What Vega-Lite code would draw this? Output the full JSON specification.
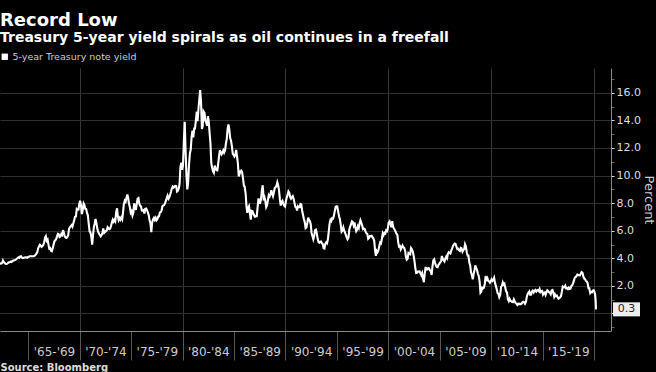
{
"$schema":"https://vega.github.io/schema/vega-lite/v6.json",
"width":611,"height":263,"autosize":{"type":"none"},
"padding":{"left":0,"top":68,"right":45,"bottom":41},
"background":"#000000",
"config":{"view":{"stroke":null},"font":"DejaVu Sans"},
"title":{"text":"Record Low","subtitle":"Treasury 5-year yield spirals as oil continues in a freefall","anchor":"start","frame":"group","offset":7,"font":"DejaVu Sans","fontSize":18,"fontWeight":"bold","color":"#ffffff","subtitleFont":"DejaVu Sans","subtitleFontSize":14,"subtitleFontWeight":"bold","subtitleColor":"#ffffff","subtitlePadding":1},
"datasets":{
"last":[{"t":2020.19,"v":0.3,"label":"0.3"}],
"yield":[
{"t":1962.04,"v":3.88},{"t":1962.13,"v":3.78},{"t":1962.21,"v":3.64},{"t":1962.29,"v":3.61},{"t":1962.38,"v":3.63},{"t":1962.46,"v":3.67},{"t":1962.54,"v":3.84},{"t":1962.63,"v":3.73},{"t":1962.71,"v":3.65},{"t":1962.79,"v":3.60},{"t":1962.88,"v":3.59},{"t":1962.96,"v":3.61},
{"t":1963.04,"v":3.67},{"t":1963.13,"v":3.71},{"t":1963.21,"v":3.73},{"t":1963.29,"v":3.76},{"t":1963.38,"v":3.75},{"t":1963.46,"v":3.80},{"t":1963.54,"v":3.84},{"t":1963.63,"v":3.86},{"t":1963.71,"v":3.87},{"t":1963.79,"v":3.91},{"t":1963.88,"v":3.97},{"t":1963.96,"v":4.02},
{"t":1964.04,"v":4.07},{"t":1964.13,"v":4.03},{"t":1964.21,"v":4.14},{"t":1964.29,"v":4.15},{"t":1964.38,"v":4.05},{"t":1964.46,"v":4.02},{"t":1964.54,"v":4.03},{"t":1964.63,"v":4.05},{"t":1964.71,"v":4.08},{"t":1964.79,"v":4.07},{"t":1964.88,"v":4.04},{"t":1964.96,"v":4.09},
{"t":1965.04,"v":4.10},{"t":1965.13,"v":4.15},{"t":1965.21,"v":4.15},{"t":1965.29,"v":4.15},{"t":1965.38,"v":4.15},{"t":1965.46,"v":4.15},{"t":1965.54,"v":4.15},{"t":1965.63,"v":4.20},{"t":1965.71,"v":4.25},{"t":1965.79,"v":4.34},{"t":1965.88,"v":4.46},{"t":1965.96,"v":4.72},
{"t":1966.04,"v":4.86},{"t":1966.13,"v":4.98},{"t":1966.21,"v":4.92},{"t":1966.29,"v":4.83},{"t":1966.38,"v":4.89},{"t":1966.46,"v":4.97},{"t":1966.54,"v":5.17},{"t":1966.63,"v":5.50},{"t":1966.71,"v":5.60},{"t":1966.79,"v":5.27},{"t":1966.88,"v":5.36},{"t":1966.96,"v":5.00},
{"t":1967.04,"v":4.70},{"t":1967.13,"v":4.74},{"t":1967.21,"v":4.54},{"t":1967.29,"v":4.51},{"t":1967.38,"v":4.75},{"t":1967.46,"v":5.01},{"t":1967.54,"v":5.23},{"t":1967.63,"v":5.31},{"t":1967.71,"v":5.40},{"t":1967.79,"v":5.57},{"t":1967.88,"v":5.78},{"t":1967.96,"v":5.75},
{"t":1968.04,"v":5.54},{"t":1968.13,"v":5.59},{"t":1968.21,"v":5.76},{"t":1968.29,"v":5.69},{"t":1968.38,"v":6.04},{"t":1968.46,"v":5.85},{"t":1968.54,"v":5.60},{"t":1968.63,"v":5.50},{"t":1968.71,"v":5.48},{"t":1968.79,"v":5.55},{"t":1968.88,"v":5.66},{"t":1968.96,"v":6.12},
{"t":1969.04,"v":6.25},{"t":1969.13,"v":6.34},{"t":1969.21,"v":6.41},{"t":1969.29,"v":6.30},{"t":1969.38,"v":6.54},{"t":1969.46,"v":6.75},{"t":1969.54,"v":7.01},{"t":1969.63,"v":7.03},{"t":1969.71,"v":7.57},{"t":1969.79,"v":7.51},{"t":1969.88,"v":7.53},{"t":1969.96,"v":7.96},
{"t":1970.04,"v":8.17},{"t":1970.13,"v":7.82},{"t":1970.21,"v":7.21},{"t":1970.29,"v":7.50},{"t":1970.38,"v":7.97},{"t":1970.46,"v":7.85},{"t":1970.54,"v":7.59},{"t":1970.63,"v":7.57},{"t":1970.71,"v":7.29},{"t":1970.79,"v":7.12},{"t":1970.88,"v":6.47},{"t":1970.96,"v":5.95},
{"t":1971.04,"v":5.89},{"t":1971.13,"v":5.56},{"t":1971.21,"v":5.00},{"t":1971.29,"v":5.65},{"t":1971.38,"v":6.28},{"t":1971.46,"v":6.53},{"t":1971.54,"v":6.85},{"t":1971.63,"v":6.55},{"t":1971.71,"v":6.14},{"t":1971.79,"v":5.93},{"t":1971.88,"v":5.78},{"t":1971.96,"v":5.69},
{"t":1972.04,"v":5.59},{"t":1972.13,"v":5.69},{"t":1972.21,"v":5.87},{"t":1972.29,"v":6.17},{"t":1972.38,"v":5.85},{"t":1972.46,"v":5.91},{"t":1972.54,"v":5.97},{"t":1972.63,"v":6.02},{"t":1972.71,"v":6.25},{"t":1972.79,"v":6.18},{"t":1972.88,"v":6.12},{"t":1972.96,"v":6.16},
{"t":1973.04,"v":6.34},{"t":1973.13,"v":6.60},{"t":1973.21,"v":6.80},{"t":1973.29,"v":6.67},{"t":1973.38,"v":6.80},{"t":1973.46,"v":6.69},{"t":1973.54,"v":7.33},{"t":1973.63,"v":7.63},{"t":1973.71,"v":7.05},{"t":1973.79,"v":6.77},{"t":1973.88,"v":6.92},{"t":1973.96,"v":6.80},
{"t":1974.04,"v":6.95},{"t":1974.13,"v":6.82},{"t":1974.21,"v":7.31},{"t":1974.29,"v":7.92},{"t":1974.38,"v":8.18},{"t":1974.46,"v":8.10},{"t":1974.54,"v":8.38},{"t":1974.63,"v":8.63},{"t":1974.71,"v":8.37},{"t":1974.79,"v":7.97},{"t":1974.88,"v":7.68},{"t":1974.96,"v":7.31},
{"t":1975.04,"v":7.41},{"t":1975.13,"v":7.11},{"t":1975.21,"v":7.30},{"t":1975.29,"v":7.99},{"t":1975.38,"v":7.72},{"t":1975.46,"v":7.51},{"t":1975.54,"v":7.92},{"t":1975.63,"v":8.33},{"t":1975.71,"v":8.37},{"t":1975.79,"v":7.97},{"t":1975.88,"v":7.80},{"t":1975.96,"v":7.76},
{"t":1976.04,"v":7.46},{"t":1976.13,"v":7.45},{"t":1976.21,"v":7.49},{"t":1976.29,"v":7.25},{"t":1976.38,"v":7.59},{"t":1976.46,"v":7.61},{"t":1976.54,"v":7.49},{"t":1976.63,"v":7.31},{"t":1976.71,"v":7.13},{"t":1976.79,"v":6.75},{"t":1976.88,"v":6.52},{"t":1976.96,"v":5.90},
{"t":1977.04,"v":6.58},{"t":1977.13,"v":6.83},{"t":1977.21,"v":6.93},{"t":1977.29,"v":6.79},{"t":1977.38,"v":6.94},{"t":1977.46,"v":6.76},{"t":1977.54,"v":6.84},{"t":1977.63,"v":7.03},{"t":1977.71,"v":7.04},{"t":1977.79,"v":7.32},{"t":1977.88,"v":7.34},{"t":1977.96,"v":7.48},
{"t":1978.04,"v":7.77},{"t":1978.13,"v":7.83},{"t":1978.21,"v":7.86},{"t":1978.29,"v":7.98},{"t":1978.38,"v":8.18},{"t":1978.46,"v":8.36},{"t":1978.54,"v":8.54},{"t":1978.63,"v":8.33},{"t":1978.71,"v":8.43},{"t":1978.79,"v":8.61},{"t":1978.88,"v":8.84},{"t":1978.96,"v":9.08},
{"t":1979.04,"v":9.20},{"t":1979.13,"v":9.13},{"t":1979.21,"v":9.20},{"t":1979.29,"v":9.25},{"t":1979.38,"v":9.24},{"t":1979.46,"v":8.85},{"t":1979.54,"v":8.90},{"t":1979.63,"v":9.06},{"t":1979.71,"v":9.41},{"t":1979.79,"v":10.63},{"t":1979.88,"v":10.93},{"t":1979.96,"v":10.42},
{"t":1980.04,"v":10.74},{"t":1980.13,"v":12.60},{"t":1980.21,"v":13.90},{"t":1980.29,"v":11.84},{"t":1980.38,"v":9.95},{"t":1980.46,"v":9.00},{"t":1980.54,"v":9.53},{"t":1980.63,"v":10.84},{"t":1980.71,"v":11.62},{"t":1980.79,"v":11.86},{"t":1980.88,"v":12.83},{"t":1980.96,"v":13.25},
{"t":1981.04,"v":12.77},{"t":1981.13,"v":13.41},{"t":1981.21,"v":13.41},{"t":1981.29,"v":13.99},{"t":1981.38,"v":14.63},{"t":1981.46,"v":13.95},{"t":1981.54,"v":14.79},{"t":1981.63,"v":15.56},{"t":1981.71,"v":16.20},{"t":1981.79,"v":15.41},{"t":1981.88,"v":13.38},{"t":1981.96,"v":13.60},
{"t":1982.04,"v":14.65},{"t":1982.13,"v":14.54},{"t":1982.21,"v":13.98},{"t":1982.29,"v":13.87},{"t":1982.38,"v":13.62},{"t":1982.46,"v":14.30},{"t":1982.54,"v":13.95},{"t":1982.63,"v":13.06},{"t":1982.71,"v":12.34},{"t":1982.79,"v":10.91},{"t":1982.88,"v":10.55},{"t":1982.96,"v":10.30},
{"t":1983.04,"v":10.20},{"t":1983.13,"v":10.72},{"t":1983.21,"v":10.51},{"t":1983.29,"v":10.40},{"t":1983.38,"v":10.38},{"t":1983.46,"v":10.85},{"t":1983.54,"v":11.38},{"t":1983.63,"v":11.85},{"t":1983.71,"v":11.65},{"t":1983.79,"v":11.54},{"t":1983.88,"v":11.69},{"t":1983.96,"v":11.83},
{"t":1984.04,"v":11.67},{"t":1984.13,"v":11.84},{"t":1984.21,"v":12.32},{"t":1984.29,"v":12.63},{"t":1984.38,"v":13.41},{"t":1984.46,"v":13.70},{"t":1984.54,"v":13.36},{"t":1984.63,"v":12.72},{"t":1984.71,"v":12.52},{"t":1984.79,"v":12.16},{"t":1984.88,"v":11.57},{"t":1984.96,"v":11.50},
{"t":1985.04,"v":11.38},{"t":1985.13,"v":11.51},{"t":1985.21,"v":11.86},{"t":1985.29,"v":11.43},{"t":1985.38,"v":10.85},{"t":1985.46,"v":9.93},{"t":1985.54,"v":10.12},{"t":1985.63,"v":10.33},{"t":1985.71,"v":10.37},{"t":1985.79,"v":10.24},{"t":1985.88,"v":9.78},{"t":1985.96,"v":9.26},
{"t":1986.04,"v":9.19},{"t":1986.13,"v":8.70},{"t":1986.21,"v":7.78},{"t":1986.29,"v":7.30},{"t":1986.38,"v":7.71},{"t":1986.46,"v":7.80},{"t":1986.54,"v":7.30},{"t":1986.63,"v":6.80},{"t":1986.71,"v":7.45},{"t":1986.79,"v":7.43},{"t":1986.88,"v":7.25},{"t":1986.96,"v":7.11},
{"t":1987.04,"v":7.01},{"t":1987.13,"v":7.06},{"t":1987.21,"v":7.06},{"t":1987.29,"v":7.68},{"t":1987.38,"v":8.34},{"t":1987.46,"v":8.02},{"t":1987.54,"v":8.01},{"t":1987.63,"v":8.32},{"t":1987.71,"v":8.94},{"t":1987.79,"v":9.30},{"t":1987.88,"v":8.35},{"t":1987.96,"v":8.45},
{"t":1988.04,"v":8.18},{"t":1988.13,"v":7.71},{"t":1988.21,"v":7.83},{"t":1988.29,"v":8.19},{"t":1988.38,"v":8.58},{"t":1988.46,"v":8.49},{"t":1988.54,"v":8.66},{"t":1988.63,"v":8.94},{"t":1988.71,"v":8.69},{"t":1988.79,"v":8.51},{"t":1988.88,"v":8.79},{"t":1988.96,"v":9.09},
{"t":1989.04,"v":9.15},{"t":1989.13,"v":9.27},{"t":1989.21,"v":9.51},{"t":1989.29,"v":9.30},{"t":1989.38,"v":8.91},{"t":1989.46,"v":8.29},{"t":1989.54,"v":7.83},{"t":1989.63,"v":8.09},{"t":1989.71,"v":8.17},{"t":1989.79,"v":7.97},{"t":1989.88,"v":7.81},{"t":1989.96,"v":7.75},
{"t":1990.04,"v":8.12},{"t":1990.13,"v":8.42},{"t":1990.21,"v":8.60},{"t":1990.29,"v":8.85},{"t":1990.38,"v":8.74},{"t":1990.46,"v":8.43},{"t":1990.54,"v":8.33},{"t":1990.63,"v":8.44},{"t":1990.71,"v":8.51},{"t":1990.79,"v":8.33},{"t":1990.88,"v":8.02},{"t":1990.96,"v":7.73},
{"t":1991.04,"v":7.70},{"t":1991.13,"v":7.47},{"t":1991.21,"v":7.77},{"t":1991.29,"v":7.70},{"t":1991.38,"v":7.70},{"t":1991.46,"v":7.94},{"t":1991.54,"v":7.91},{"t":1991.63,"v":7.43},{"t":1991.71,"v":7.14},{"t":1991.79,"v":6.87},{"t":1991.88,"v":6.62},{"t":1991.96,"v":6.19},
{"t":1992.04,"v":6.24},{"t":1992.13,"v":6.58},{"t":1992.21,"v":6.95},{"t":1992.29,"v":6.78},{"t":1992.38,"v":6.69},{"t":1992.46,"v":6.48},{"t":1992.54,"v":5.84},{"t":1992.63,"v":5.60},{"t":1992.71,"v":5.38},{"t":1992.79,"v":5.60},{"t":1992.88,"v":6.04},{"t":1992.96,"v":6.08},
{"t":1993.04,"v":5.83},{"t":1993.13,"v":5.43},{"t":1993.21,"v":5.19},{"t":1993.29,"v":5.13},{"t":1993.38,"v":5.20},{"t":1993.46,"v":5.22},{"t":1993.54,"v":5.09},{"t":1993.63,"v":5.03},{"t":1993.71,"v":4.73},{"t":1993.79,"v":4.71},{"t":1993.88,"v":5.06},{"t":1993.96,"v":5.15},
{"t":1994.04,"v":5.09},{"t":1994.13,"v":5.40},{"t":1994.21,"v":5.94},{"t":1994.29,"v":6.52},{"t":1994.38,"v":6.78},{"t":1994.46,"v":6.70},{"t":1994.54,"v":6.91},{"t":1994.63,"v":6.88},{"t":1994.71,"v":7.08},{"t":1994.79,"v":7.40},{"t":1994.88,"v":7.72},{"t":1994.96,"v":7.78},
{"t":1995.04,"v":7.76},{"t":1995.13,"v":7.37},{"t":1995.21,"v":7.05},{"t":1995.29,"v":6.86},{"t":1995.38,"v":6.41},{"t":1995.46,"v":5.93},{"t":1995.54,"v":6.01},{"t":1995.63,"v":6.24},{"t":1995.71,"v":6.00},{"t":1995.79,"v":5.86},{"t":1995.88,"v":5.69},{"t":1995.96,"v":5.51},
{"t":1996.04,"v":5.38},{"t":1996.13,"v":5.50},{"t":1996.21,"v":6.10},{"t":1996.29,"v":6.30},{"t":1996.38,"v":6.48},{"t":1996.46,"v":6.69},{"t":1996.54,"v":6.64},{"t":1996.63,"v":6.39},{"t":1996.71,"v":6.60},{"t":1996.79,"v":6.27},{"t":1996.88,"v":5.97},{"t":1996.96,"v":6.07},
{"t":1997.04,"v":6.33},{"t":1997.13,"v":6.20},{"t":1997.21,"v":6.54},{"t":1997.29,"v":6.76},{"t":1997.38,"v":6.57},{"t":1997.46,"v":6.38},{"t":1997.54,"v":6.12},{"t":1997.63,"v":6.16},{"t":1997.71,"v":6.11},{"t":1997.79,"v":5.93},{"t":1997.88,"v":5.80},{"t":1997.96,"v":5.77},
{"t":1998.04,"v":5.42},{"t":1998.13,"v":5.49},{"t":1998.21,"v":5.61},{"t":1998.29,"v":5.61},{"t":1998.38,"v":5.63},{"t":1998.46,"v":5.52},{"t":1998.54,"v":5.46},{"t":1998.63,"v":5.27},{"t":1998.71,"v":4.62},{"t":1998.79,"v":4.18},{"t":1998.88,"v":4.54},{"t":1998.96,"v":4.45},
{"t":1999.04,"v":4.60},{"t":1999.13,"v":4.91},{"t":1999.21,"v":5.14},{"t":1999.29,"v":5.08},{"t":1999.38,"v":5.44},{"t":1999.46,"v":5.81},{"t":1999.54,"v":5.68},{"t":1999.63,"v":5.84},{"t":1999.71,"v":5.80},{"t":1999.79,"v":6.03},{"t":1999.88,"v":5.97},{"t":1999.96,"v":6.19},
{"t":2000.04,"v":6.58},{"t":2000.13,"v":6.68},{"t":2000.21,"v":6.50},{"t":2000.29,"v":6.26},{"t":2000.38,"v":6.69},{"t":2000.46,"v":6.30},{"t":2000.54,"v":6.18},{"t":2000.63,"v":6.06},{"t":2000.71,"v":5.93},{"t":2000.79,"v":5.78},{"t":2000.88,"v":5.70},{"t":2000.96,"v":5.17},
{"t":2001.04,"v":4.86},{"t":2001.13,"v":4.89},{"t":2001.21,"v":4.64},{"t":2001.29,"v":4.76},{"t":2001.38,"v":4.93},{"t":2001.46,"v":4.81},{"t":2001.54,"v":4.76},{"t":2001.63,"v":4.57},{"t":2001.71,"v":4.12},{"t":2001.79,"v":3.91},{"t":2001.88,"v":3.97},{"t":2001.96,"v":4.39},
{"t":2002.04,"v":4.34},{"t":2002.13,"v":4.30},{"t":2002.21,"v":4.74},{"t":2002.29,"v":4.65},{"t":2002.38,"v":4.49},{"t":2002.46,"v":4.19},{"t":2002.54,"v":3.81},{"t":2002.63,"v":3.29},{"t":2002.71,"v":2.94},{"t":2002.79,"v":2.95},{"t":2002.88,"v":3.05},{"t":2002.96,"v":3.03},
{"t":2003.04,"v":3.05},{"t":2003.13,"v":2.90},{"t":2003.21,"v":2.78},{"t":2003.29,"v":2.93},{"t":2003.38,"v":2.52},{"t":2003.46,"v":2.27},{"t":2003.54,"v":2.87},{"t":2003.63,"v":3.37},{"t":2003.71,"v":3.18},{"t":2003.79,"v":3.19},{"t":2003.88,"v":3.29},{"t":2003.96,"v":3.27},
{"t":2004.04,"v":3.12},{"t":2004.13,"v":3.07},{"t":2004.21,"v":2.79},{"t":2004.29,"v":3.39},{"t":2004.38,"v":3.85},{"t":2004.46,"v":3.93},{"t":2004.54,"v":3.69},{"t":2004.63,"v":3.47},{"t":2004.71,"v":3.36},{"t":2004.79,"v":3.35},{"t":2004.88,"v":3.53},{"t":2004.96,"v":3.60},
{"t":2005.04,"v":3.71},{"t":2005.13,"v":3.77},{"t":2005.21,"v":4.17},{"t":2005.29,"v":4.00},{"t":2005.38,"v":3.85},{"t":2005.46,"v":3.77},{"t":2005.54,"v":3.98},{"t":2005.63,"v":4.12},{"t":2005.71,"v":4.01},{"t":2005.79,"v":4.33},{"t":2005.88,"v":4.45},{"t":2005.96,"v":4.39},
{"t":2006.04,"v":4.35},{"t":2006.13,"v":4.57},{"t":2006.21,"v":4.72},{"t":2006.29,"v":4.90},{"t":2006.38,"v":5.00},{"t":2006.46,"v":5.07},{"t":2006.54,"v":5.04},{"t":2006.63,"v":4.82},{"t":2006.71,"v":4.67},{"t":2006.79,"v":4.69},{"t":2006.88,"v":4.58},{"t":2006.96,"v":4.53},
{"t":2007.04,"v":4.75},{"t":2007.13,"v":4.71},{"t":2007.21,"v":4.48},{"t":2007.29,"v":4.59},{"t":2007.38,"v":4.67},{"t":2007.46,"v":5.03},{"t":2007.54,"v":4.88},{"t":2007.63,"v":4.43},{"t":2007.71,"v":4.20},{"t":2007.79,"v":4.20},{"t":2007.88,"v":3.67},{"t":2007.96,"v":3.49},
{"t":2008.04,"v":2.98},{"t":2008.13,"v":2.78},{"t":2008.21,"v":2.48},{"t":2008.29,"v":2.84},{"t":2008.38,"v":3.15},{"t":2008.46,"v":3.49},{"t":2008.54,"v":3.30},{"t":2008.63,"v":3.14},{"t":2008.71,"v":2.88},{"t":2008.79,"v":2.73},{"t":2008.88,"v":2.29},{"t":2008.96,"v":1.52},
{"t":2009.04,"v":1.60},{"t":2009.13,"v":1.87},{"t":2009.21,"v":1.82},{"t":2009.29,"v":1.86},{"t":2009.38,"v":2.13},{"t":2009.46,"v":2.71},{"t":2009.54,"v":2.46},{"t":2009.63,"v":2.57},{"t":2009.71,"v":2.37},{"t":2009.79,"v":2.33},{"t":2009.88,"v":2.23},{"t":2009.96,"v":2.34},
{"t":2010.04,"v":2.48},{"t":2010.13,"v":2.36},{"t":2010.21,"v":2.43},{"t":2010.29,"v":2.58},{"t":2010.38,"v":2.18},{"t":2010.46,"v":2.00},{"t":2010.54,"v":1.76},{"t":2010.63,"v":1.47},{"t":2010.71,"v":1.41},{"t":2010.79,"v":1.18},{"t":2010.88,"v":1.35},{"t":2010.96,"v":1.93},
{"t":2011.04,"v":1.99},{"t":2011.13,"v":2.26},{"t":2011.21,"v":2.11},{"t":2011.29,"v":2.17},{"t":2011.38,"v":1.84},{"t":2011.46,"v":1.58},{"t":2011.54,"v":1.54},{"t":2011.63,"v":1.02},{"t":2011.71,"v":0.90},{"t":2011.79,"v":1.06},{"t":2011.88,"v":0.91},{"t":2011.96,"v":0.89},
{"t":2012.04,"v":0.84},{"t":2012.13,"v":0.83},{"t":2012.21,"v":1.02},{"t":2012.29,"v":0.89},{"t":2012.38,"v":0.76},{"t":2012.46,"v":0.71},{"t":2012.54,"v":0.62},{"t":2012.63,"v":0.71},{"t":2012.71,"v":0.67},{"t":2012.79,"v":0.71},{"t":2012.88,"v":0.67},{"t":2012.96,"v":0.70},
{"t":2013.04,"v":0.81},{"t":2013.13,"v":0.85},{"t":2013.21,"v":0.82},{"t":2013.29,"v":0.71},{"t":2013.38,"v":0.84},{"t":2013.46,"v":1.20},{"t":2013.54,"v":1.40},{"t":2013.63,"v":1.52},{"t":2013.71,"v":1.60},{"t":2013.79,"v":1.37},{"t":2013.88,"v":1.37},{"t":2013.96,"v":1.58},
{"t":2014.04,"v":1.65},{"t":2014.13,"v":1.52},{"t":2014.21,"v":1.64},{"t":2014.29,"v":1.70},{"t":2014.38,"v":1.59},{"t":2014.46,"v":1.68},{"t":2014.54,"v":1.70},{"t":2014.63,"v":1.63},{"t":2014.71,"v":1.77},{"t":2014.79,"v":1.55},{"t":2014.88,"v":1.62},{"t":2014.96,"v":1.64},
{"t":2015.04,"v":1.37},{"t":2015.13,"v":1.47},{"t":2015.21,"v":1.52},{"t":2015.29,"v":1.35},{"t":2015.38,"v":1.54},{"t":2015.46,"v":1.68},{"t":2015.54,"v":1.63},{"t":2015.63,"v":1.54},{"t":2015.71,"v":1.49},{"t":2015.79,"v":1.39},{"t":2015.88,"v":1.67},{"t":2015.96,"v":1.70},
{"t":2016.04,"v":1.52},{"t":2016.13,"v":1.22},{"t":2016.21,"v":1.38},{"t":2016.29,"v":1.26},{"t":2016.38,"v":1.30},{"t":2016.46,"v":1.17},{"t":2016.54,"v":1.07},{"t":2016.63,"v":1.13},{"t":2016.71,"v":1.18},{"t":2016.79,"v":1.27},{"t":2016.88,"v":1.60},{"t":2016.96,"v":1.96},
{"t":2017.04,"v":1.92},{"t":2017.13,"v":1.90},{"t":2017.21,"v":2.01},{"t":2017.29,"v":1.82},{"t":2017.38,"v":1.84},{"t":2017.46,"v":1.77},{"t":2017.54,"v":1.87},{"t":2017.63,"v":1.78},{"t":2017.71,"v":1.80},{"t":2017.79,"v":1.98},{"t":2017.88,"v":2.05},{"t":2017.96,"v":2.18},
{"t":2018.04,"v":2.38},{"t":2018.13,"v":2.60},{"t":2018.21,"v":2.63},{"t":2018.29,"v":2.70},{"t":2018.38,"v":2.82},{"t":2018.46,"v":2.78},{"t":2018.54,"v":2.78},{"t":2018.63,"v":2.77},{"t":2018.71,"v":2.89},{"t":2018.79,"v":3.00},{"t":2018.88,"v":2.95},{"t":2018.96,"v":2.68},
{"t":2019.04,"v":2.54},{"t":2019.13,"v":2.49},{"t":2019.21,"v":2.37},{"t":2019.29,"v":2.33},{"t":2019.38,"v":2.19},{"t":2019.46,"v":1.83},{"t":2019.54,"v":1.83},{"t":2019.63,"v":1.49},{"t":2019.71,"v":1.57},{"t":2019.79,"v":1.53},{"t":2019.88,"v":1.64},{"t":2019.96,"v":1.68},
{"t":2020.04,"v":1.56},{"t":2020.1,"v":1.40},{"t":2020.14,"v":1.10},{"t":2020.16,"v":0.90},{"t":2020.18,"v":0.55},{"t":2020.19,"v":0.30}
]},
"encoding":{
  "x":{"field":"t","type":"quantitative","scale":{"domain":[1962.25,2021.65],"nice":false,"zero":false},
   "axis":{"values":[1965,1970,1975,1980,1985,1990,1995,2000,2005,2010,2015,2020],
    "domain":true,"domainColor":"#8a8a8a","domainWidth":1,
    "ticks":true,"tickSize":29,"tickColor":"#555555","tickWidth":1,
    "grid":true,"gridColor":{"condition":{"test":"datum.value % 10 === 0","value":"#383838"},"value":"rgba(0,0,0,0)"},"gridWidth":1,
    "labelExpr":"datum.value >= 2020 ? '' : \"'\" + slice('' + datum.value, 2) + \"-'\" + slice('' + (datum.value + 4), 2)",
    "labelOffset":25.7,"labelPadding":-14,"labelColor":"#cccccc","labelFont":"DejaVu Sans","labelFontSize":12,"labelFlush":false,"labelOverlap":false,"labelBound":false,
    "title":"Source: Bloomberg","titleAnchor":"start","titleAlign":"left","titleX":0,"titleY":39,"titleBaseline":"alphabetic","titleFont":"DejaVu Sans","titleFontSize":10,"titleFontWeight":"bold","titleColor":"#dddddd"}},
  "y":{"field":"v","type":"quantitative","scale":{"domain":[-1.27,17.8],"nice":false,"zero":false},
   "axis":{"orient":"right","values":[-1,0,1,2,3,4,5,6,7,8,9,10,11,12,13,14,15,16,17],
    "domain":true,"domainColor":"#8a8a8a","domainWidth":1,
    "ticks":true,"tickSize":3,"tickColor":{"condition":{"test":"datum.value % 2 === 0","value":"#dddddd"},"value":"#666666"},
    "grid":true,"gridColor":{"condition":{"test":"datum.value % 2 === 0","value":"#303030"},"value":"rgba(0,0,0,0)"},"gridWidth":1,
    "labelExpr":"datum.value % 2 === 0 && datum.value > 0 ? format(datum.value, '.1f') : ''",
    "labelPadding":2,"labelColor":"#dddddd","labelFont":"DejaVu Sans","labelFontSize":11,"labelFlush":false,"labelOverlap":false,
    "title":"Percent","titleAngle":90,"titleX":37,"titleY":131.5,"titleAlign":"center","titleBaseline":"middle","titleFont":"DejaVu Sans","titleFontSize":13,"titleFontWeight":"normal","titleColor":"#cccccc"}}
},
"layer":[
{"data":{"name":"yield"},
 "mark":{"type":"line","color":"#ffffff","strokeWidth":2.1,"strokeJoin":"miter","clip":true},
 "encoding":{
  "color":{"datum":"5-year Treasury note yield","type":"nominal","scale":{"range":["#ffffff"]},
   "legend":{"orient":"none","legendX":0,"legendY":-16,"title":null,"padding":0,"labelFont":"DejaVu Sans","labelFontSize":9.5,"labelColor":"#cccccc","labelOffset":3,"symbolSize":40,
    "encode":{"symbols":{"update":{"shape":{"value":"square"},"fill":{"value":"#ffffff"},"stroke":{"value":"#ffffff"},"strokeWidth":{"value":0}}}}}}
 }},
{"data":{"name":"last"},
 "mark":{"type":"point","shape":"M-1,-0.52H1V0.52H-1Z","size":729,"filled":true,"color":"#eeeeee","opacity":1,"xOffset":30.5}},
{"data":{"name":"last"},
 "mark":{"type":"text","dx":30.5,"align":"center","baseline":"middle","font":"DejaVu Sans","fontSize":11,"color":"#222222"},
 "encoding":{"text":{"field":"label"}}}
]
}
